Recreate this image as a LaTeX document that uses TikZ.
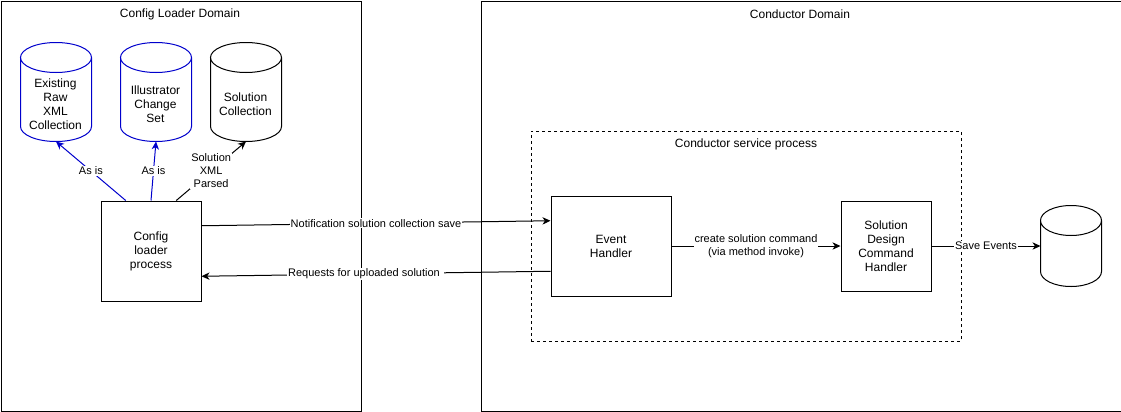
\documentclass[tikz,border=0pt]{standalone}
\usepackage{fontspec}
\setmainfont{Liberation Sans}
\usetikzlibrary{arrows.meta,calc}
\definecolor{dblue}{RGB}{0,0,204}
\newcommand\mycyl[2]{%
 \draw[#2] let \p1=(#1.north west), \p2=(#1.south east), \n1={(\x2-\x1)/2} in
  ({\x1},{\y1-11.25pt}) -- ({\x1},{\y2+11.25pt})
  arc[start angle=180,end angle=360,x radius={\n1*1pt},y radius=11.25pt]
  -- ({\x2},{\y1-11.25pt})
  arc[start angle=0,end angle=180,x radius={\n1*1pt},y radius=11.25pt]
  arc[start angle=180,end angle=360,x radius={\n1*1pt},y radius=11.25pt];
}
\begin{document}
\begin{tikzpicture}[x=0.75pt,y=-0.75pt, line width=0.75pt,
  pbox/.style 2 args={draw, anchor=north west, inner sep=0pt, minimum width=#1*0.75pt, minimum height=#2*0.75pt, align=center, font=\fontsize{9}{10.5}\selectfont},
  cylbox/.style 2 args={anchor=north west, inner sep=0pt, minimum width=#1*0.75pt, minimum height=#2*0.75pt},
  ttl/.style={font=\fontsize{9}{10.5}\selectfont, inner sep=0pt},
  cyltxt/.style={font=\fontsize{9}{10.5}\selectfont, align=center, inner sep=0pt},
  lbl/.style={font=\fontsize{8.25}{9.75}\selectfont, fill=white, inner sep=0.6pt, align=center, text=black},
  arr/.style={-{Stealth[length=6pt,width=5.5pt,inset=1.8pt]}},
  dashbox/.style={dash pattern=on 2.25pt off 2.25pt}
]
\useasboundingbox (0,0) rectangle (1121,411);
% domains
\node[pbox={360}{410}] (dom1) at (0.5,0.5) {};
\node[pbox={640}{410}] (dom2) at (480.5,0.5) {};
\node[ttl] (t1) at (180,14) {Config Loader Domain};
\node[ttl] (t2) at (800,14) {Conductor Domain};
% service process
\node[pbox={430}{210}, dashbox] (svc) at (530.5,130.5) {};
\node[ttl] (t3) at (746,144) {Conductor service process};
% process boxes
\node[pbox={100}{100}] (cfg) at (100.5,200.5) {Config\\loader\\process};
\node[pbox={120}{100}] (eh) at (550.5,195.5) {Event\\Handler};
\node[pbox={90}{90}] (sd) at (840.5,200.5) {Solution\\Design\\Command\\Handler};
% cylinders
\node[cylbox={70}{98}] (c1) at (20.5,42.5) {};
\mycyl{c1}{dblue}
\node[cyltxt] (c1t) at (55.5,104) {Existing\\Raw\\XML\\Collection};
\node[cylbox={70}{98}] (c2) at (120.5,42.5) {};
\mycyl{c2}{dblue}
\node[cyltxt] (c2t) at (155.5,104) {Illustrator\\Change\\Set};
\node[cylbox={70}{98}] (c3) at (210.5,42.5) {};
\mycyl{c3}{black}
\node[cyltxt] (c3t) at (245.5,104) {Solution\\Collection};
\node[cylbox={60}{80}] (c4) at (1040.5,205.5) {};
\mycyl{c4}{black}
% connector anchor points
\coordinate (a1) at ($(cfg.north west)!0.25!(cfg.north east)$);
\coordinate (a3) at ($(cfg.north west)!0.75!(cfg.north east)$);
\coordinate (cfgE1) at ($(cfg.north east)!0.25!(cfg.south east)$);
\coordinate (cfgE3) at ($(cfg.north east)!0.75!(cfg.south east)$);
\coordinate (ehW1) at ($(eh.north west)!0.25!(eh.south west)$);
\coordinate (ehW3) at ($(eh.north west)!0.75!(eh.south west)$);
% connectors
\draw[arr,dblue] (a1) -- (c1.south) node[lbl,midway] (l1) {As is};
\draw[arr,dblue] (cfg.north) -- (c2.south) node[lbl,midway] (l2) {As is};
\draw[arr] (a3) -- (c3.south) node[lbl,midway] (l3) {Solution\\XML\\Parsed};
\draw[arr] (cfgE1) -- (ehW1) node[lbl,midway] (l4) {Notification solution collection save};
\draw[arr] (ehW3) -- (cfgE3) node[lbl,pos=0.53] (l5) {Requests for uploaded solution };
\draw[arr] (eh.east) -- (sd.west) node[lbl,midway] (l6) {create solution command\\(via method invoke)};
\draw[arr] (sd.east) -- (c4.west) node[lbl,midway] (l7) {Save Events};
\end{tikzpicture}
\end{document}
